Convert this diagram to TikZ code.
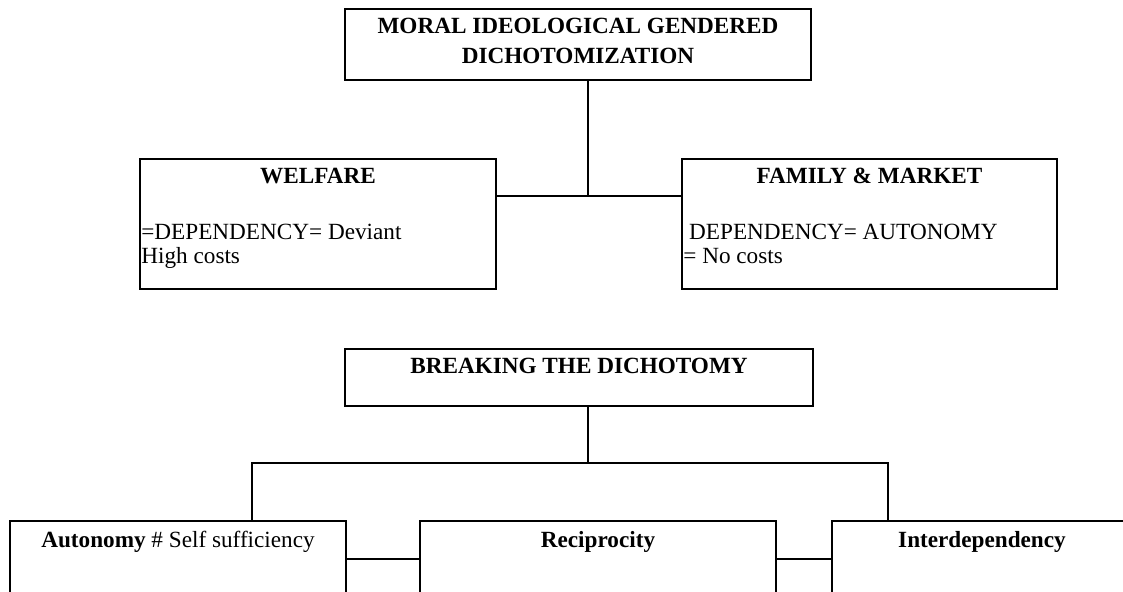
\documentclass[tikz,border=0pt]{standalone}
\usepackage{fontspec}
\setmainfont{Liberation Serif}
\usetikzlibrary{positioning}
\newcommand{\diagsize}{\fontsize{11.6}{12}\selectfont}
\tikzset{
    box/.style={draw, line width=1pt, inner sep=0pt, outer sep=0pt, anchor=north west},
    head/.style={font=\diagsize\bfseries, inner sep=0pt, anchor=north, align=center},
    body/.style={font=\diagsize, inner sep=0pt, anchor=north west, align=left},
    link/.style={line width=1pt},
}
\begin{document}
\begin{tikzpicture}[x=0.5pt, y=-0.5pt]
    \useasboundingbox (0,0) rectangle (1123,591);
    \clip (0,0) rectangle (1123,591);

        \node[box, minimum width=233pt, minimum height=35.5pt] (top) at (345,9) {};
        \node[box, minimum width=178pt, minimum height=65pt] (welfare) at (140,159) {};
        \node[box, minimum width=187.5pt, minimum height=65pt] (family) at (682,159) {};
        \node[box, minimum width=234pt, minimum height=28.5pt] (breaking) at (345,349) {};
        \node[box, minimum width=168pt, minimum height=70pt] (autonomy) at (10,521) {};
        \node[box, minimum width=178pt, minimum height=70pt] (recip) at (420,521) {};
        \node[box, minimum width=150pt, minimum height=70pt] (interdep) at (832,521) {};

        \node[head, font=\fontsize{11.6}{14.7}\selectfont\bfseries, below=4.5pt of top.north] (topt)
            {MORAL IDEOLOGICAL GENDERED\\DICHOTOMIZATION};
        \node[head, below=4.5pt of welfare.north] (welfaret) {WELFARE};
        \node[head, below=4.5pt of family.north] (familyt) {FAMILY \& MARKET};
        \node[head, below=4.5pt of breaking.north] (breakingt) {BREAKING THE DICHOTOMY};
        \node[head, font=\diagsize\mdseries, below=5pt of autonomy.north] (autonomyt)
            {\textbf{Autonomy} \# Self sufficiency};
        \node[head, below=5pt of recip.north] (recipt) {Reciprocity};
        \node[head, below=5pt of interdep.north] (interdept) {Interdependency};

        \node[body, below right=32.5pt and 0.5pt of welfare.north west] (welfareb)
            {=DEPENDENCY= Deviant\\High costs};
        \node[body, below right=32.5pt and 0.5pt of family.north west] (familyb)
            {\ DEPENDENCY= AUTONOMY\\= No costs};

        \coordinate (j1) at (588,196);
        \coordinate (j2) at (588,463);
        \coordinate (l2) at (252,463);
        \coordinate (r2) at (888,463);
        \coordinate (j3) at (0,559);

    \draw[link] (top.south -| j1) -- (j1);
    \draw[link] (welfare.east |- j1) -- (family.west |- j1);
    \draw[link] (breaking.south -| j2) -- (j2);
    \draw[link] (autonomy.north -| l2) -- (l2) -- (r2) -- (interdep.north -| r2);
    \draw[link] (autonomy.east |- j3) -- (recip.west |- j3);
    \draw[link] (recip.east |- j3) -- (interdep.west |- j3);
\end{tikzpicture}
\end{document}
